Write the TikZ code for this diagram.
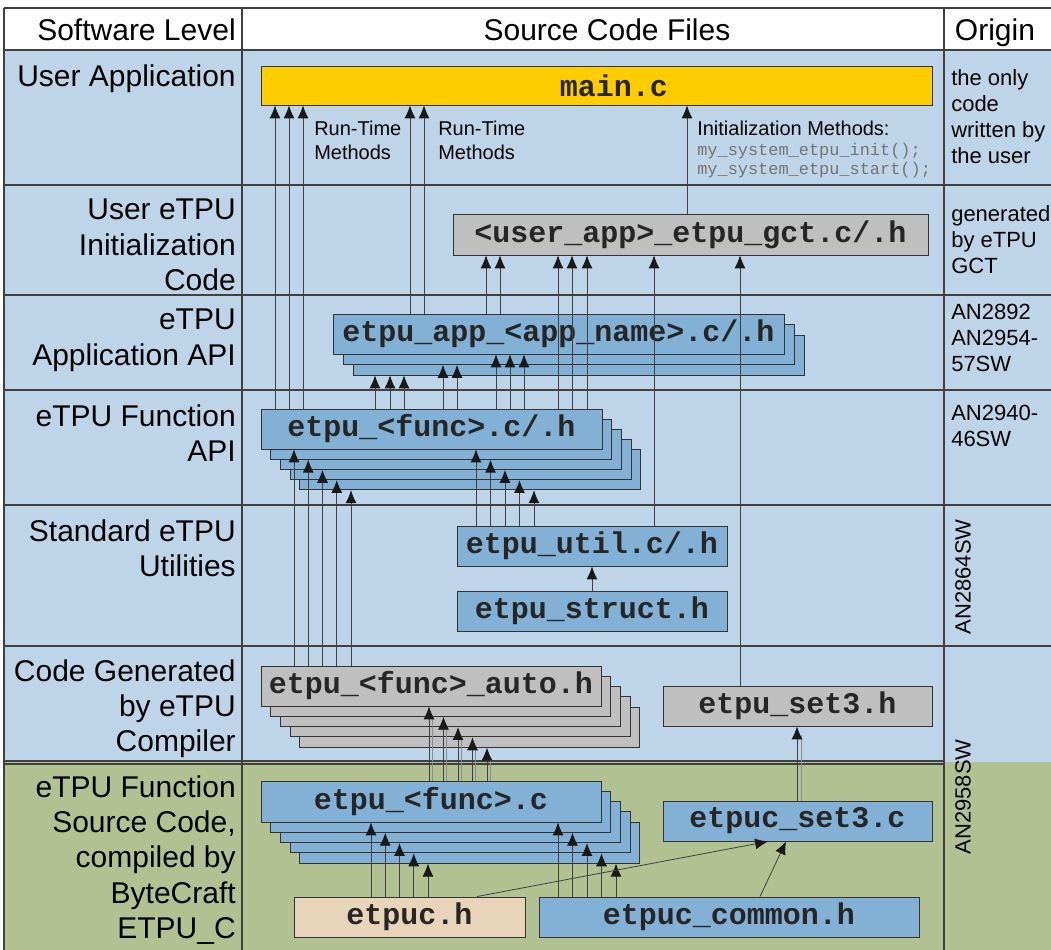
\documentclass[tikz,border=0pt]{standalone}
\usepackage{fontspec}
\setmainfont{Liberation Sans}
\newfontfamily\codefont{Liberation Mono}
\usetikzlibrary{arrows.meta,calc}

\definecolor{rowblue}{RGB}{190,213,233}
\definecolor{rowgreen}{RGB}{177,193,145}
\definecolor{fileblue}{RGB}{130,177,213}
\definecolor{filegrey}{RGB}{191,191,191}
\definecolor{fileyellow}{RGB}{255,204,0}
\definecolor{filebeige}{RGB}{232,212,185}

\tikzset{
  file/.style={draw=black!80, line width=0.7pt, inner sep=0pt, text=black!85,
    font=\codefont\bfseries\fontsize{22.5}{26}\selectfont},
  conn/.style={draw=black!75, line width=0.6pt},
  arr/.style={conn, -{Latex[length=3.4mm, width=2.9mm, color=black!90]}},
  grid/.style={draw=black!75, line width=0.8pt},
  head/.style={inner sep=0pt, font=\fontsize{22.5}{26.25}\selectfont},
  level/.style={anchor=north east, inner sep=0pt, align=right,
    font=\fontsize{22.5}{26.5}\selectfont},
  origin/.style={anchor=north west, inner sep=0pt, align=left,
    font=\fontsize{16.5}{19.5}\selectfont},
  note/.style={anchor=north west, inner sep=0pt, align=left,
    font=\fontsize{15}{18}\selectfont},
}

\begin{document}
\begin{tikzpicture}[x=0.75pt, y=-0.75pt]
\useasboundingbox (0,0) rectangle (1051,950);

% table
\fill[rowblue] (4,50) rectangle (1051,762);
\fill[rowgreen] (4,762) rectangle (1051,950);
\draw[grid] (4,8) -- (1051,8);
\foreach \y in {50,185,295,390,505,646}
  \draw[grid] (4,\y) -- (1051,\y);
\draw[grid] (4,761) -- (944,761);
\draw[grid] (4,764) -- (944,764);
\foreach \x in {4,242,944}
  \draw[grid] (\x,8) -- (\x,950);

\node[head, anchor=base east] (hlevel) at (236,40) {Software Level};
\node[head, anchor=base] (hfiles) at (607,40) {Source Code Files};
\node[head, anchor=base] (horigin) at (995,40) {Origin};

% software levels
\node[level] (luser) at (236,64) {User Application};
\node[level] (linit) at (236,199) {User eTPU\\Initialization\\Code};
\node[level] (lapi) at (236,309) {eTPU\\Application API};
\node[level] (lfunc) at (236,404) {eTPU Function\\API};
\node[level] (lutil) at (236,519) {Standard eTPU\\Utilities};
\node[level] (lgen) at (236,659) {Code Generated\\by eTPU\\Compiler};
\node[level] (lsrc) at (236,775) {eTPU Function\\Source Code,\\compiled by\\ByteCraft\\ETPU\_C};

% origin
\node[origin] (ouser) at (951,69) {the only\\code\\written by\\the user};
\node[origin] (ogct) at (951,205) {generated\\by eTPU\\GCT};
\node[origin] (oapi) at (951,304) {AN2892\\AN2954-\\57SW};
\node[origin] (ofunc) at (951,405) {AN2940-\\46SW};
\node[origin, anchor=center, rotate=90] (outil) at (963,577) {AN2864SW};
\node[origin, anchor=center, rotate=90] (osrc) at (963,797) {AN2958SW};

% files
\node[file, fill=fileyellow, minimum width=503.25pt, minimum height=29.25pt] (main) at (596.5,85.5) {\hspace{26pt}main.c};
\node[file, fill=filegrey, minimum width=356.25pt, minimum height=30.75pt] (gct) at (690.5,234.5) {<user\_app>\_etpu\_gct.c/.h};
\foreach \k in {2,1}
  \node[file, fill=fileblue, minimum width=338.25pt, minimum height=30pt] (app\k) at (558.5+10*\k,334+10.5*\k) {};
\node[file, fill=fileblue, minimum width=338.25pt, minimum height=30pt] (app0) at (558.5,334) {etpu\_app\_<app\_name>.c/.h};
\foreach \k in {4,3,2,1}
  \node[file, fill=fileblue, minimum width=255.75pt, minimum height=30pt] (fh\k) at (431.5+9.7*\k,429+10.2*\k) {};
\node[file, fill=fileblue, minimum width=255.75pt, minimum height=30pt] (fh0) at (431.5,429) {etpu\_<func>.c/.h};
\node[file, fill=fileblue, minimum width=202.5pt, minimum height=30pt] (util) at (592,546) {etpu\_util.c/.h};
\node[file, fill=fileblue, minimum width=202.5pt, minimum height=30pt] (struct) at (592,611) {etpu\_struct.h};
\foreach \k in {4,3,2,1}
  \node[file, fill=filegrey, minimum width=255pt, minimum height=30pt] (auto\k) at (431+9.7*\k,686+10.3*\k) {};
\node[file, fill=filegrey, minimum width=255pt, minimum height=30pt] (auto0) at (431,686) {etpu\_<func>\_auto.h};
\node[file, fill=filegrey, minimum width=201.75pt, minimum height=30pt] (set3h) at (797.5,706) {etpu\_set3.h};
\foreach \k in {4,3,2,1}
  \node[file, fill=fileblue, minimum width=255pt, minimum height=30.75pt] (fc\k) at (431+9.7*\k,801.5+10.3*\k) {};
\node[file, fill=fileblue, minimum width=255pt, minimum height=30.75pt] (fc0) at (431,801.5) {etpu\_<func>.c};
\node[file, fill=fileblue, minimum width=201.75pt, minimum height=30pt] (set3c) at (797.5,821) {etpuc\_set3.c};
\node[file, fill=filebeige, minimum width=173.25pt, minimum height=30pt] (etpuch) at (409.5,917) {etpuc.h};
\node[file, fill=fileblue, minimum width=285pt, minimum height=30pt] (common) at (729,917) {etpuc\_common.h};

% notes
\node[note] (rt1) at (314,121) {Run-Time\\Methods};
\node[note] (rt2) at (438,121) {Run-Time\\Methods};
\node[note] (initm) at (697,121) {Initialization Methods:};
\node[anchor=north west, inner sep=0pt, align=left, text=black!55,
  font=\codefont\fontsize{12.7}{14.25}\selectfont] (calls) at (697,143)
  {my\_system\_etpu\_init();\\my\_system\_etpu\_start();};

% into main.c
\foreach \x in {275,289,303}
  \draw[arr] (fh0.north -| \x,0) -- (main.south -| \x,0);
\foreach \x in {410,424}
  \draw[arr] (app0.north -| \x,0) -- (main.south -| \x,0);
\draw[arr] (gct.north -| 687,0) -- (main.south -| 687,0);

% into gct
\foreach \x in {486,500}
  \draw[arr] (app0.north -| \x,0) -- (gct.south -| \x,0);
\foreach \x in {558,572,587}
  \draw[arr] (fh0.north -| \x,0) -- (gct.south -| \x,0);
\draw[arr] (util.north -| 654,0) -- (gct.south -| 654,0);
\draw[arr] (set3h.north -| 740,0) -- (gct.south -| 740,0);

% into the app stack
\foreach \x in {375,390,404}
  \draw[arr] (fh0.north -| \x,0) -- (app2.south -| \x,0);
\foreach \x in {443,457}
  \draw[arr] (fh0.north -| \x,0) -- (app1.south -| \x,0);
\foreach \x in {496,510,524}
  \draw[arr] (fh0.north -| \x,0) -- (app0.south -| \x,0);

% into the function API stack
\foreach \k in {0,...,4} {
  \pgfmathsetmacro\xa{294+14.25*\k}
  \pgfmathsetmacro\xb{476+14.5*\k}
  \draw[arr] (auto0.north -| \xa,0) -- (fh\k.south -| \xa,0);
  \draw[arr] (util.north -| \xb,0) -- (fh\k.south -| \xb,0);
}
\draw[arr] (struct.north -| 592,0) -- (util.south -| 592,0);

% into the auto stack
\foreach \k in {0,...,4} {
  \pgfmathsetmacro\xa{429+14.5*\k}
  \pgfmathsetmacro\xd{432+14.5*\k}
  \draw[conn, black!45] (fc0.north -| \xd,0) -- ($(auto\k.south -| \xd,0)+(0,9)$);
  \draw[arr] (fc0.north -| \xa,0) -- (auto\k.south -| \xa,0);
}
\draw[conn, black!45] (set3c.north -| 801,0) -- ($(set3h.south -| 801,0)+(0,9)$);
\draw[arr] (set3c.north -| 797,0) -- (set3h.south -| 797,0);

% into the source stack
\foreach \k in {0,...,4} {
  \pgfmathsetmacro\xa{371+14.25*\k}
  \pgfmathsetmacro\xb{558+14.5*\k}
  \draw[arr] (etpuch.north -| \xa,0) -- (fc\k.south -| \xa,0);
  \draw[arr] (common.north -| \xb,0) -- (fc\k.south -| \xb,0);
}
\draw[arr] (etpuch.north -| 477,0) -- (set3c.south -| 768,0);
\draw[arr] (common.north -| 760,0) -- (set3c.south -| 786,0);
\end{tikzpicture}
\end{document}
